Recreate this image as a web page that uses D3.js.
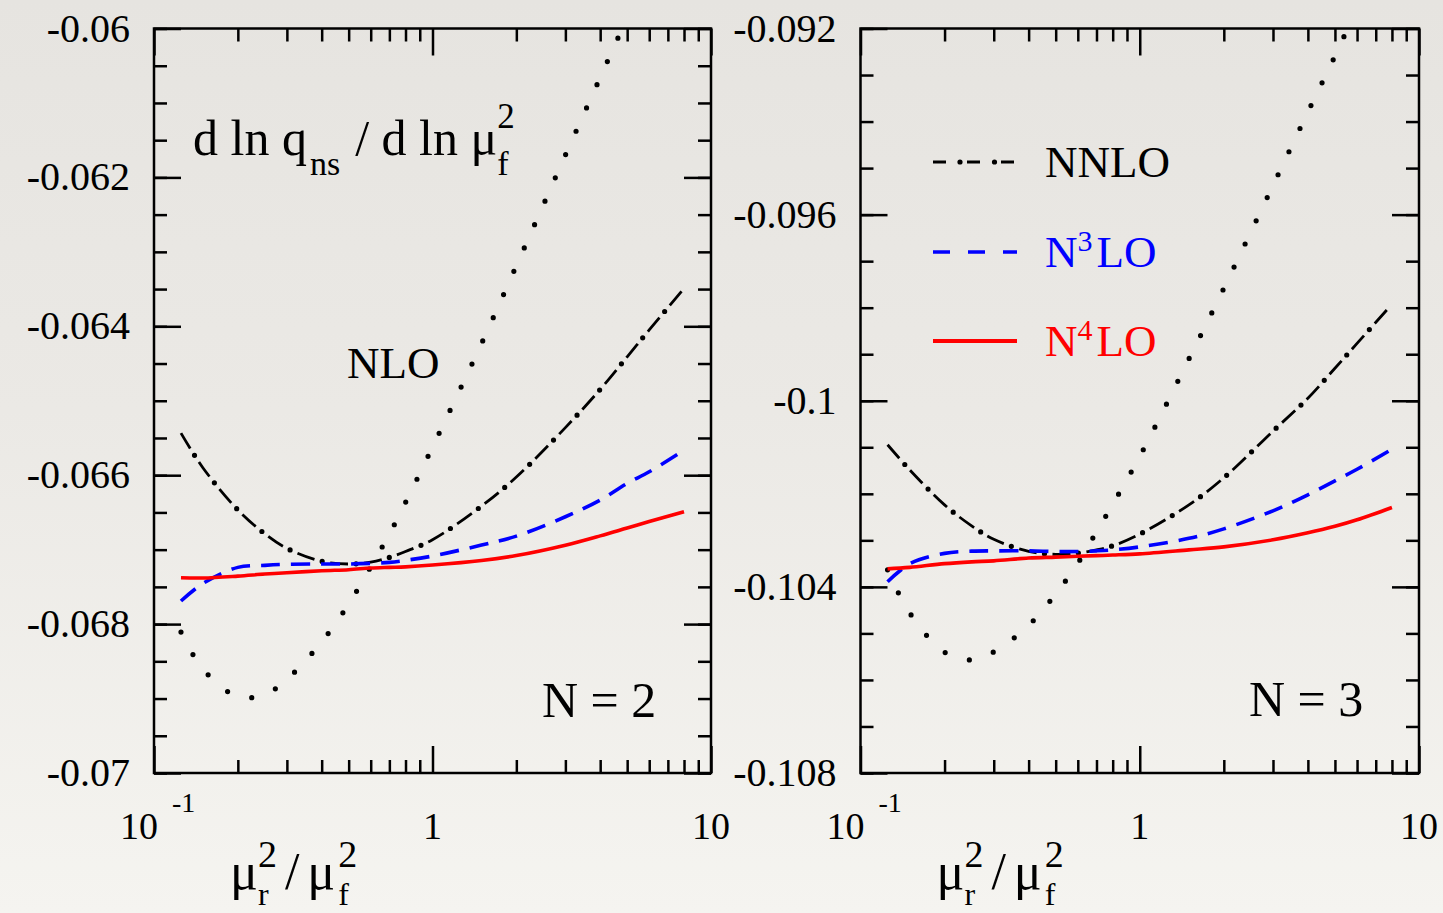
<!DOCTYPE html>
<html>
<head>
<meta charset="utf-8">
<script src="https://cdn.jsdelivr.net/npm/d3@7"></script>
<style>
html, body { margin: 0; padding: 0; }
body {
	width: 1443px; height: 913px; overflow: hidden;
	background: linear-gradient(to bottom, #e6e4e0 0%, #ebe9e5 45%, #f5f4f0 100%);
}
svg { display: block; font-family: "Liberation Serif", "Times New Roman", serif; }
</style>
</head>
<body>
<svg width="1443" height="913"></svg>
<script>
// mu_r^2 / mu_f^2 sample points
const muRatio = [0.125, 0.15, 0.2, 0.25, 0.3, 0.4, 0.5, 0.6, 0.7, 0.8, 1, 1.5, 2, 3, 4, 5, 6, 8];

// N = 2
const nloN2  = [-0.068107, -0.068607, -0.068973, -0.068946, -0.068741, -0.068238, -0.067731, -0.067230, -0.066791, -0.066366, -0.065622, -0.064230, -0.063187, -0.061701, -0.060659, -0.059855, null, null];
const nnloN2 = [-0.065435, -0.065903, -0.066466, -0.066787, -0.066983, -0.067157, -0.067193, -0.067167, -0.067104, -0.067024, -0.066866, -0.066415, -0.066025, -0.065361, -0.064848, -0.064410, -0.064049, -0.063491];
const n3loN2 = [-0.067690, -0.067453, -0.067238, -0.067211, -0.067197, -0.067193, -0.067193, -0.067184, -0.067171, -0.067144, -0.067086, -0.066938, -0.066818, -0.066558, -0.066334, -0.066110, -0.065954, -0.065663];
const n4loN2 = [-0.067378, -0.067381, -0.067355, -0.067328, -0.067310, -0.067283, -0.067269, -0.067247, -0.067238, -0.067231, -0.067207, -0.067146, -0.067079, -0.066940, -0.066815, -0.066709, -0.066623, -0.066491];

// N = 3
const nloN3  = [-0.103634, -0.104559, -0.105404, -0.105570, -0.105398, -0.104826, -0.104151, -0.103492, -0.102817, -0.102226, -0.101196, -0.099101, -0.097583, -0.095372, -0.093794, -0.092594, -0.091555, null];
const nnloN3 = [-0.100946, -0.101484, -0.102237, -0.102688, -0.102978, -0.103237, -0.103301, -0.103275, -0.103204, -0.103118, -0.102867, -0.102237, -0.101656, -0.100652, -0.099946, -0.099301, -0.098768, -0.097925];
const n3loN3 = [-0.103892, -0.103505, -0.103280, -0.103232, -0.103226, -0.103226, -0.103241, -0.103241, -0.103226, -0.103204, -0.103140, -0.102957, -0.102753, -0.102366, -0.102022, -0.101720, -0.101473, -0.101043];
const n4loN3 = [-0.103613, -0.103581, -0.103501, -0.103462, -0.103441, -0.103381, -0.103361, -0.103342, -0.103329, -0.103316, -0.103290, -0.103204, -0.103140, -0.102989, -0.102839, -0.102699, -0.102559, -0.102295];

// axes
const xMajor = [0.1, 1, 10];
const xMinor = [0.2, 0.3, 0.4, 0.5, 0.6, 0.7, 0.8, 0.9, 2, 3, 4, 5, 6, 7, 8, 9];
const yMajorN2 = [-0.07, -0.068, -0.066, -0.064, -0.062, -0.06];
const yMajorN3 = [-0.108, -0.104, -0.1, -0.096, -0.092];

const seriesNames = ["NLO", "NNLO", "N3LO", "N4LO"];

//each style is a list of stroke layers
const styles = {
	NLO:  { color: "#000", layers: [{ width: 5.2, dash: "0,25.5", cap: "round" }] },
	NNLO: { color: "#000", layers: [
		{ width: 2.8, dash: "18,16", cap: "butt" },
		{ width: 5.2, dash: "0,34", cap: "round", offset: -26 }
	] },
	N3LO: { color: "#0000ff", layers: [{ width: 3.6, dash: "19,11", cap: "butt" }] },
	N4LO: { color: "#ff0000", layers: [{ width: 3.6, dash: null, cap: "butt" }] }
};

const svg = d3.select("svg");
const yTop = 28.5, yBottom = 773;

//text built from pieces laid one after another;
//stack: the next piece starts at the same x (sub + sup pair)
function rich(g, x, y, parts, fill) {
	let cx = x, stackW = 0;
	parts.forEach(p => {
		cx += p.dx || 0;
		const t = g.append("text")
			.attr("x", cx)
			.attr("y", y + (p.dy || 0))
			.attr("font-size", p.size)
			.attr("fill", fill || "#000")
			.style("white-space", "pre")
			.text(p.t);
		const w = t.node().getComputedTextLength();
		if (p.stack) {
			stackW = w;
		} else {
			cx += Math.max(w, stackW);
			stackW = 0;
		}
	});
}

function strokeLayers(sel, color, layers) {
	layers.forEach(l => {
		sel()
			.attr("fill", "none")
			.attr("stroke", color)
			.attr("stroke-width", l.width)
			.attr("stroke-linecap", l.cap)
			.attr("stroke-dasharray", l.dash)
			.attr("stroke-dashoffset", l.offset || 0);
	});
}

const panels = [
	{
		x0: 154, x1: 711,
		yDomain: [-0.07, -0.06], yMajor: yMajorN2, yMinorStep: 0.0005,
		data: { NLO: nloN2, NNLO: nnloN2, N3LO: n3loN2, N4LO: n4loN2 },
		label: "N = 2", labelX: 542, labelY: 717
	},
	{
		x0: 860.5, x1: 1419,
		yDomain: [-0.108, -0.092], yMajor: yMajorN3, yMinorStep: 0.001,
		data: { NLO: nloN3, NNLO: nnloN3, N3LO: n3loN3, N4LO: n4loN3 },
		label: "N = 3", labelX: 1249, labelY: 716
	}
];

panels.forEach((p, i) => {
	const x = d3.scaleLog().domain([0.1, 10]).range([p.x0, p.x1]);
	const y = d3.scaleLinear().domain(p.yDomain).range([yBottom, yTop]);
	const g = svg.append("g");

	const yMinor = d3.range(Math.round((p.yDomain[1] - p.yDomain[0]) / p.yMinorStep) + 1)
		.map(k => p.yDomain[0] + k * p.yMinorStep);

	//ticks, all pointing inwards
	const tickSets = [
		[d3.axisBottom(x).tickValues(xMajor), 27, `translate(0,${yBottom})`],
		[d3.axisBottom(x).tickValues(xMinor), 13, `translate(0,${yBottom})`],
		[d3.axisTop(x).tickValues(xMajor), 27, `translate(0,${yTop})`],
		[d3.axisTop(x).tickValues(xMinor), 13, `translate(0,${yTop})`],
		[d3.axisLeft(y).tickValues(yMinor), 13, `translate(${p.x0},0)`],
		[d3.axisLeft(y).tickValues(p.yMajor), 27, `translate(${p.x0},0)`],
		[d3.axisRight(y).tickValues(yMinor), 13, `translate(${p.x1},0)`],
		[d3.axisRight(y).tickValues(p.yMajor), 27, `translate(${p.x1},0)`]
	];
	tickSets.forEach(([ax, len, tr]) => {
		const a = g.append("g").attr("transform", tr)
			.call(ax.tickSize(-len).tickSizeOuter(0).tickFormat(""));
		a.select(".domain").remove();
		a.selectAll("line").attr("stroke", "#000").attr("stroke-width", 2.5);
	});

	g.append("rect")
		.attr("x", p.x0).attr("y", yTop)
		.attr("width", p.x1 - p.x0).attr("height", yBottom - yTop)
		.attr("fill", "none").attr("stroke", "#000").attr("stroke-width", 2.5);

	//y tick labels
	g.selectAll(".ylab").data(p.yMajor).enter().append("text")
		.attr("x", p.x0 - 24)
		.attr("y", d => y(d) + 13)
		.attr("text-anchor", "end")
		.attr("font-size", 40)
		.text(d => String(+d.toFixed(3)));

	//x tick labels
	g.append("text").attr("x", p.x0 + 4).attr("y", 839)
		.attr("text-anchor", "end").attr("font-size", 38).text("10");
	g.append("text").attr("x", p.x0 + 18).attr("y", 812)
		.attr("font-size", 28).text("-1");
	g.append("text").attr("x", x(1)).attr("y", 839)
		.attr("text-anchor", "middle").attr("font-size", 38).text("1");
	g.append("text").attr("x", x(10)).attr("y", 839)
		.attr("text-anchor", "middle").attr("font-size", 38).text("10");

	//x axis title
	rich(g, p.x0 + 76, 889, [
		{ t: "μ", size: 52 },
		{ t: "r", size: 32, dy: 16, stack: true },
		{ t: "2", size: 38, dy: -22 },
		{ t: "/", size: 52, dx: 8 },
		{ t: "μ", size: 52, dx: 8 },
		{ t: "f", size: 32, dy: 16, dx: 3, stack: true },
		{ t: "2", size: 38, dy: -22 }
	]);

	//curves
	const clipId = "clip" + i;
	svg.append("clipPath").attr("id", clipId).append("rect")
		.attr("x", p.x0).attr("y", yTop)
		.attr("width", p.x1 - p.x0).attr("height", yBottom - yTop);

	const line = d3.line()
		.defined(d => d[1] != null)
		.x(d => x(d[0]))
		.y(d => y(d[1]))
		.curve(d3.curveCatmullRom.alpha(0.5));

	const curves = g.append("g").attr("clip-path", `url(#${clipId})`);
	seriesNames.forEach(name => {
		const s = styles[name];
		const pts = muRatio.map((m, k) => [m, p.data[name][k]]);
		strokeLayers(() => curves.append("path").attr("d", line(pts)), s.color, s.layers);
	});

	g.append("text").attr("x", p.labelX).attr("y", p.labelY)
		.attr("font-size", 50).style("white-space", "pre").text(p.label);
});

//left panel annotations
const ann = svg.append("g");
rich(ann, 193, 155, [
	{ t: "d ln q", size: 50 },
	{ t: "ns", size: 34, dy: 20, dx: 3 },
	{ t: "/ d ln μ", size: 50, dx: 15 },
	{ t: "f", size: 34, dy: 20, stack: true },
	{ t: "2", size: 35, dy: -27 }
]);
ann.append("text").attr("x", 347).attr("y", 378).attr("font-size", 45).text("NLO");

//legend in right panel
const legend = [
	{ key: "NNLO", y: 162, parts: [{ t: "NNLO", size: 45 }] },
	{ key: "N3LO", y: 252, parts: [{ t: "N", size: 45 }, { t: "3", size: 30, dy: -16 }, { t: "LO", size: 45, dx: 4 }] },
	{ key: "N4LO", y: 341, parts: [{ t: "N", size: 45 }, { t: "4", size: 30, dy: -16 }, { t: "LO", size: 45, dx: 4 }] }
];
const legendDash = {
	NNLO: [{ width: 2.8, dash: "13,21", cap: "butt" }, { width: 5.2, dash: "0,34.5", cap: "round", offset: -27 }],
	N3LO: [{ width: 3.6, dash: "17,18", cap: "butt" }],
	N4LO: [{ width: 4, dash: null, cap: "butt" }]
};
const lg = svg.append("g");
legend.forEach(e => {
	const s = styles[e.key];
	strokeLayers(() => lg.append("line")
		.attr("x1", 933).attr("x2", 1017).attr("y1", e.y).attr("y2", e.y), s.color, legendDash[e.key]);
	rich(lg, 1045, e.y + 15, e.parts, s.color);
});
</script>
</body>
</html>
